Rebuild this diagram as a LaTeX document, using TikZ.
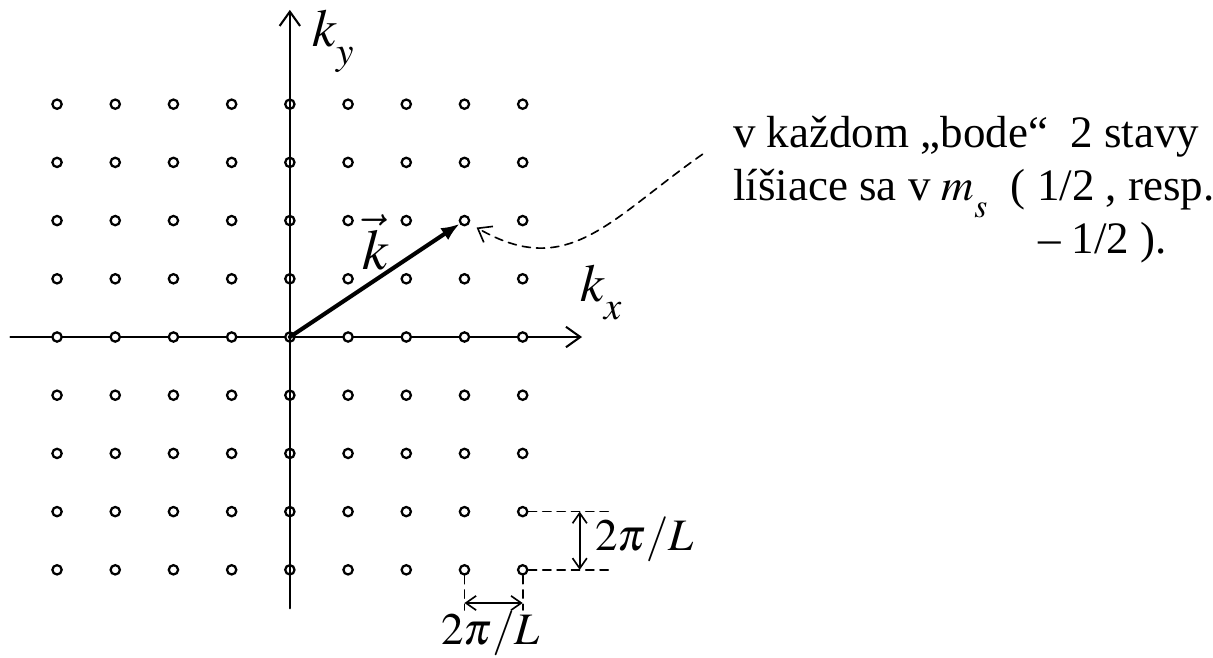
\documentclass[tikz,border=0pt]{standalone}
\usepackage{mathptmx}
\usepackage{fontspec}
\setmainfont{Liberation Serif}
\usetikzlibrary{arrows.meta}
\tikzset{
  pt/.style={circle,draw,fill=white,inner sep=0pt,minimum size=0.16cm,line width=1.1pt},
  axis/.style={line width=1pt,-{Straight Barb[length=7pt,width=10pt]}},
  dimarrow/.style={line width=0.8pt,{Straight Barb[length=5pt,width=7pt]}-{Straight Barb[length=5pt,width=7pt]}},
  dimline/.style={line width=0.8pt,dash pattern=on 4pt off 3pt},
  klabel/.style={font=\fontsize{26}{30}\selectfont},
  dlabel/.style={font=\fontsize{22}{26}\selectfont},
  note/.style={font=\fontsize{22}{26}\selectfont,anchor=base west,inner sep=0pt}
}
\newcommand{\lowsub}[1]{_{\raisebox{-5pt}{$\scriptstyle #1$}}}
\begin{document}
\begin{tikzpicture}[line cap=round]
  \useasboundingbox (-4.98,-5.50) rectangle (15.86,5.79);
  \coordinate (xl) at (-4.8,0);
  \coordinate (xr) at (5.02,0);
  \coordinate (yb) at (0,-4.66);
  \coordinate (yt) at (0,5.62);
  \draw[axis] (xl) -- (xr);
  \foreach \i in {-4,...,4}
    \foreach \j in {-4,...,4}
      \node[pt] (p\i\j) at (\i,\j) {};
  \draw[axis] (yb) -- (yt);
  \node[klabel] (ky) at (0.75,5.08) {$k\lowsub{y}$};
  \node[klabel] (kx) at (5.35,0.76) {$k\lowsub{x}$};
  \draw[line width=2pt,-{Latex[length=9pt,width=7pt]}] (p00.center) -- (p32);
  \node[klabel,font=\fontsize{28}{32}\selectfont] (kvec) at (1.48,1.62) {$\vec{k}$};
  \coordinate (cs) at (7.09,3.14);
  \draw[dimline,-{Straight Barb[length=6pt,width=9pt]},shorten >=4pt] (cs) to[out=215,in=-30,looseness=1.2] (p32);
  \node[note] (t1) at (7.61,3.26) {v každom „bode“~ 2 stavy};
  \node[note] (t2) at (7.61,2.35) {líšiace sa v $m\lowsub{s}$~ ( 1/2 , resp.};
  \node[note] (t3) at (12.85,1.44) {– 1/2 ).};
  \coordinate (hr1) at (5.52,-3);
  \coordinate (hr2) at (5.52,-4);
  \draw[dimline] (p4-3) -- (hr1);
  \draw[dimline] (p4-4) -- (hr2);
  \coordinate (va) at (4.98,-3);
  \coordinate (vb) at (4.98,-4);
  \draw[dimarrow] (va) -- (vb);
  \node[dlabel,anchor=west] (dy) at (5.12,-3.48) {$2\pi/L$};
  \coordinate (vd1) at (3,-4.69);
  \coordinate (vd2) at (4,-4.69);
  \draw[dimline] (p3-4) -- (vd1);
  \draw[dimline] (p4-4) -- (vd2);
  \coordinate (ha) at (3,-4.57);
  \coordinate (hb) at (4,-4.57);
  \draw[dimarrow] (ha) -- (hb);
  \node[dlabel] (dx) at (3.45,-5.09) {$2\pi/L$};
\end{tikzpicture}
\end{document}
